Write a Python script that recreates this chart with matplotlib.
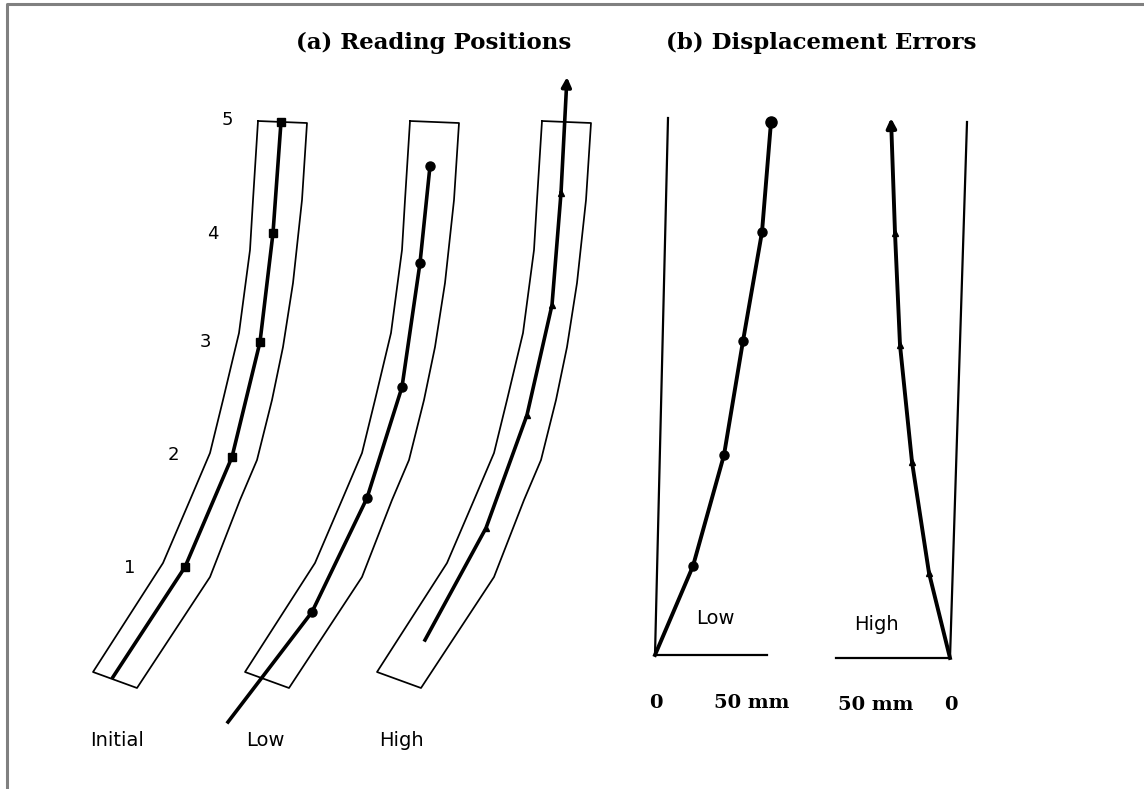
import matplotlib.pyplot as plt

# everything is in pixel units of the original scanned figure (y grows downward)

# outline of the tube in its initial position
sleeve_left_x = [258, 253, 250, 239, 223, 210, 190, 163, 93]
sleeve_left_y = [121, 200, 250, 333, 400, 453, 500, 563, 672]
sleeve_right_x = [307, 302, 293, 283, 272, 257, 240, 210, 137]
sleeve_right_y = [123, 200, 283, 347, 400, 460, 500, 577, 688]
sleeve_shift = [0, 152, 284]

# reading positions (a)
init_x = [113, 185, 232, 260, 273, 281]
init_y = [677, 567, 457, 342, 233, 122]
low_x = [228, 312, 367, 402, 420, 430]
low_y = [722, 612, 498, 387, 263, 166]
high_x = [425, 486, 527, 552, 561]
high_y = [640, 528, 415, 305, 193]
high_tip = (567, 77)

pos_labels = ['1', '2', '3', '4', '5']
pos_label_x = [130, 173, 205, 213, 227]
pos_label_y = [568, 455, 342, 234, 120]

case_labels = ['Initial', 'Low', 'High']
case_label_x = [117, 265, 401]

# displacement errors (b)
err_low_x = [655, 693, 724, 743, 762, 771]
err_low_y = [655, 566, 455, 341, 232, 122]
err_high_x = [950, 929, 912, 900, 895]
err_high_y = [658, 573, 462, 345, 233]
err_high_tip = (891, 118)

fig = plt.figure(figsize=(11.44, 7.89), dpi=100)
ax = fig.add_axes([0, 0, 1, 1])
ax.set_xlim(0, 1144)
ax.set_ylim(789, 0)
ax.axis('off')

# scan frame
ax.plot([7, 7, 1144], [789, 4, 4], color='#808080', lw=2.2, solid_capstyle='butt')

# tubes
for s in sleeve_shift:
    xs = [x + s for x in sleeve_left_x] + [x + s for x in sleeve_right_x[::-1]] + [sleeve_left_x[0] + s]
    ys = sleeve_left_y + sleeve_right_y[::-1] + [sleeve_left_y[0]]
    ax.plot(xs, ys, color='black', lw=1.25)

ax.plot(init_x, init_y, color='black', lw=2.6)
ax.plot(init_x[1:], init_y[1:], 's', color='black', ms=5.5)
ax.plot(low_x, low_y, color='black', lw=2.6)
ax.plot(low_x[1:], low_y[1:], 'o', color='black', ms=6.5)
ax.plot(high_x, high_y, color='black', lw=2.6)
ax.plot(high_x[1:], high_y[1:], '^', color='black', ms=4.5)
ax.annotate('', xy=high_tip, xytext=(high_x[-1], high_y[-1]),
            arrowprops=dict(arrowstyle='-|>', lw=2.6, color='black', mutation_scale=14,
                            shrinkA=0, shrinkB=0))

sans = 'DejaVu Sans'
for t, x, y in zip(pos_labels, pos_label_x, pos_label_y):
    ax.text(x, y, t, fontsize=13, ha='center', va='center', family=sans)
for t, x in zip(case_labels, case_label_x):
    ax.text(x, 741, t, fontsize=14, ha='center', va='center', family=sans)

# displacement error panel
ax.plot([668, 655, 767], [118, 655, 655], color='black', lw=1.6)
ax.plot([967, 950, 836], [122, 658, 658], color='black', lw=1.6)
ax.plot(err_low_x, err_low_y, color='black', lw=2.8)
ax.plot(err_low_x[1:-1], err_low_y[1:-1], 'o', color='black', ms=6.5)
ax.plot(err_low_x[-1], err_low_y[-1], 'o', color='black', ms=8)
ax.plot(err_high_x, err_high_y, color='black', lw=2.8)
ax.plot(err_high_x[1:], err_high_y[1:], '^', color='black', ms=5)
ax.annotate('', xy=err_high_tip, xytext=(err_high_x[-1], err_high_y[-1]),
            arrowprops=dict(arrowstyle='-|>', lw=2.8, color='black', mutation_scale=14,
                            shrinkA=0, shrinkB=0))

ax.text(715, 618, 'Low', fontsize=14, ha='center', va='center', family=sans)
ax.text(876, 625, 'High', fontsize=14, ha='center', va='center', family=sans)

serif = 'DejaVu Serif'
ax.text(656, 703, '0', fontsize=14, fontweight='bold', ha='center', va='center', family=serif)
ax.text(752, 703, '50 mm', fontsize=14, fontweight='bold', ha='center', va='center', family=serif)
ax.text(876, 705, '50 mm', fontsize=14, fontweight='bold', ha='center', va='center', family=serif)
ax.text(951, 705, '0', fontsize=14, fontweight='bold', ha='center', va='center', family=serif)

ax.text(434, 43, '(a) Reading Positions', fontsize=16.5, fontweight='bold', ha='center', va='center', family=serif)
ax.text(821, 43, '(b) Displacement Errors', fontsize=16.5, fontweight='bold', ha='center', va='center', family=serif)

fig.savefig('out.png', dpi=100)
